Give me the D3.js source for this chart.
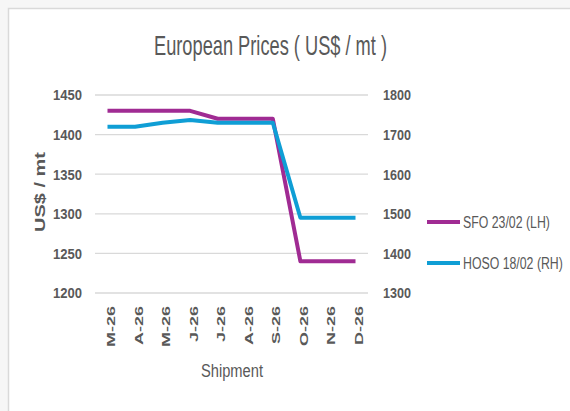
<!DOCTYPE html>
<html><head><meta charset="utf-8">
<script src="https://cdn.jsdelivr.net/npm/d3@7"></script>
<style>
html,body{margin:0;padding:0;background:#f6f6f6;}
svg{display:block;}
</style></head>
<body>
<svg id="c" width="570" height="411"></svg>
<script>
const categories = ["M-26","A-26","M-26","J-26","J-26","A-26","S-26","O-26","N-26","D-26"];
const sfoValues = [1430,1430,1430,1430,1420,1420,1420,1240,1240,1240];
const hosoValues = [1720,1720,1730,1737,1730,1730,1730,1490,1490,1490];
const leftTicks = [1200,1250,1300,1350,1400,1450];
const rightTicks = [1300,1400,1500,1600,1700,1800];
const seriesNames = ["SFO 23/02 (LH)","HOSO 18/02 (RH)"];
const colors = ["#a02b93","#0f9ed5"];

const svg = d3.select("#c");
const font = "'Liberation Sans',Arial,sans-serif";
const grey = "#595959";

svg.append("rect").attr("x",8.5).attr("y",8.5).attr("width",600).attr("height",500)
  .attr("fill","#ffffff").attr("stroke","#d9d9d9").attr("stroke-width",1.5);

const x = d3.scalePoint().domain(d3.range(categories.length)).range([107.5,355.5]);
const yL = d3.scaleLinear().domain([1200,1450]).range([293,95]);
const yR = d3.scaleLinear().domain([1300,1800]).range([293,95]);

// gridlines
svg.append("g").selectAll("line").data(leftTicks).join("line")
  .attr("x1",95).attr("x2",368).attr("y1",d=>yL(d)).attr("y2",d=>yL(d))
  .attr("stroke","#d9d9d9").attr("stroke-width",1.3);

// left axis
const gl = svg.append("g").attr("transform","translate(82,0)")
  .call(d3.axisLeft(yL).tickValues(leftTicks).tickSize(0).tickPadding(0).tickFormat(d3.format("d")));
gl.select(".domain").remove();
gl.selectAll("text").attr("font-family",font).attr("font-weight","bold").attr("font-size",15)
  .attr("fill",grey).attr("textLength",29).attr("lengthAdjust","spacingAndGlyphs");

// right axis
const gr = svg.append("g").attr("transform","translate(383,0)")
  .call(d3.axisRight(yR).tickValues(rightTicks).tickSize(0).tickPadding(0).tickFormat(d3.format("d")));
gr.select(".domain").remove();
gr.selectAll("text").attr("font-family",font).attr("font-weight","bold").attr("font-size",15)
  .attr("fill",grey).attr("textLength",28).attr("lengthAdjust","spacingAndGlyphs");

// x axis
const gx = svg.append("g").attr("transform","translate(0,306)")
  .call(d3.axisBottom(x).tickSize(0).tickFormat(i=>categories[i]));
gx.select(".domain").remove();
gx.selectAll("text").attr("font-family",font).attr("font-weight","bold")
  .attr("font-size",18).attr("fill",grey)
  .attr("transform","rotate(-90) scale(1,0.62)").attr("text-anchor","end").attr("dy","11.3px").attr("x",0).attr("y",0);

// lines
const lineL = d3.line().x((d,i)=>x(i)).y(d=>yL(d));
const lineR = d3.line().x((d,i)=>x(i)).y(d=>yR(d));
svg.append("path").datum(sfoValues).attr("d",lineL).attr("fill","none")
  .attr("stroke",colors[0]).attr("stroke-width",4).attr("stroke-linejoin","round");
svg.append("path").datum(hosoValues).attr("d",lineR).attr("fill","none")
  .attr("stroke",colors[1]).attr("stroke-width",4).attr("stroke-linejoin","round");

// title
svg.append("text").attr("x",270.5).attr("y",55).attr("text-anchor","middle")
  .attr("font-family",font).attr("font-size",28).attr("fill",grey)
  .attr("textLength",233).attr("lengthAdjust","spacingAndGlyphs")
  .text("European Prices ( US$ / mt )");

// y axis title
svg.append("text").attr("transform","translate(45,192) rotate(-90)").attr("text-anchor","middle")
  .attr("font-family",font).attr("font-weight","bold").attr("font-size",15)
  .attr("fill",grey).attr("textLength",80).attr("lengthAdjust","spacingAndGlyphs").text("US$ / mt");

// x axis title
svg.append("text").attr("x",232).attr("y",377).attr("text-anchor","middle")
  .attr("font-family",font).attr("font-size",18).attr("fill",grey)
  .attr("textLength",62).attr("lengthAdjust","spacingAndGlyphs").text("Shipment");

// legend
const leg = svg.append("g").selectAll("g").data(seriesNames).join("g")
  .attr("transform",(d,i)=>`translate(427,${222+i*41})`);
leg.append("line").attr("x1",0).attr("x2",33).attr("y1",0).attr("y2",0)
  .attr("stroke",(d,i)=>colors[i]).attr("stroke-width",4);
leg.append("text").attr("transform","translate(36,0) scale(0.77,1)").attr("dy","0.35em")
  .attr("font-family",font).attr("font-size",16).attr("fill",grey).text(d=>d);
</script>
</body></html>
